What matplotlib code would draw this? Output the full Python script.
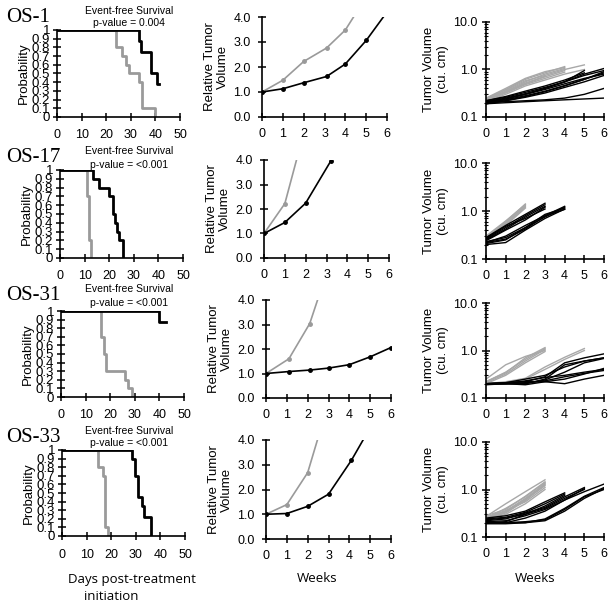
import matplotlib
matplotlib.use("Agg")
import matplotlib.pyplot as plt
import numpy as np
from matplotlib.ticker import FixedLocator, LogLocator, NullFormatter

# figure is laid out in pixel coords (615 x 606 @ 100 dpi)
W, H = 615, 606
GRAY = "#9a9a9a"
LGRAY = "#a8a8a8"

models = ["OS-1", "OS-17", "OS-31", "OS-33"]
p_values = ["p-value = 0.004", "p-value = <0.001", "p-value = <0.001", "p-value = <0.001"]

# Kaplan-Meier curves: event times (days) and survival probability
km_ctrl_t = [
    [0, 24, 26.3, 27.9, 29.2, 33.5, 34.5, 39.9],
    [0, 10.8, 11.6, 12.8],
    [0, 16.4, 17.5, 18.2, 26.2, 27.3, 28.8],
    [0, 14.8, 16.8, 17.6, 18.8],
]
km_ctrl_s = [
    [1, 0.8, 0.7, 0.6, 0.5, 0.4, 0.1, 0],
    [1, 0.7, 0.2, 0],
    [1, 0.7, 0.5, 0.3, 0.2, 0.1, 0],
    [1, 0.8, 0.7, 0.1, 0],
]
km_trt_t = [
    [0, 33.2, 34.3, 38.3, 40.5, 41.5],
    [0, 13.6, 15.9, 19.9, 21.6, 22.5, 23.2, 24.0, 25.8],
    [0, 39.8, 42.8],
    [0, 28.3, 29.5, 30.8, 32.5, 33.5, 36.0],
]
km_trt_s = [
    [1, 0.875, 0.75, 0.5, 0.375, 0.375],
    [1, 0.9, 0.8, 0.7, 0.5, 0.4, 0.3, 0.2, 0],
    [1, 0.875, 0.875],
    [1, 0.9, 0.7, 0.45, 0.35, 0.22, 0],
]

# median relative tumor volume (weeks, RTV)
rtv_ctrl_wk = [[0, 1, 2, 3.1, 4, 5], [0, 1, 2], [0, 1.1, 2.1, 3.1], [0, 1, 2, 3]]
rtv_ctrl = [[1.0, 1.47, 2.22, 2.76, 3.48, 4.8], [1.0, 2.22, 5.4],
            [1.0, 1.6, 3.04, 5.6], [1.0, 1.39, 2.68, 5.5]]
rtv_trt_wk = [[0, 1, 2, 3.1, 4, 5, 6], [0, 1, 2, 3.2], [0, 1.1, 2.1, 3, 4, 5, 6],
              [0, 1, 2, 3, 4.1, 5]]
rtv_trt = [[1.0, 1.13, 1.37, 1.62, 2.12, 3.06, 4.2], [1.0, 1.45, 2.24, 3.95],
           [1.0, 1.08, 1.14, 1.22, 1.36, 1.68, 2.06], [1.0, 1.03, 1.32, 1.81, 3.18, 4.5]]

# individual tumor volumes (cu. cm), one list per mouse, weekly from week 0
vol_ctrl = [
    [[0.24, 0.38, 0.62, 0.85, 1.15], [0.25, 0.40, 0.65, 0.90, 1.10],
     [0.23, 0.35, 0.55, 0.80, 1.05], [0.22, 0.33, 0.50, 0.70, 0.95],
     [0.24, 0.37, 0.58, 0.75, 1.00, 1.25], [0.21, 0.30, 0.45, 0.60, 0.80, 1.00],
     [0.23, 0.34, 0.52, 0.72], [0.22, 0.32, 0.48, 0.65, 0.88]],
    [[0.28, 0.60, 1.40], [0.27, 0.55, 1.30], [0.26, 0.52, 1.20],
     [0.30, 0.62, 1.35], [0.25, 0.50, 1.15], [0.29, 0.58, 1.25]],
    [[0.25, 0.50, 0.75, 1.00], [0.22, 0.35, 0.65, 1.10], [0.21, 0.32, 0.60, 1.05],
     [0.22, 0.34, 0.70, 1.15], [0.20, 0.30, 0.55, 0.95],
     [0.20, 0.22, 0.26, 0.45, 0.72, 1.10], [0.20, 0.21, 0.25, 0.40, 0.65, 1.00]],
    [[0.27, 0.50, 0.90, 1.60], [0.25, 0.40, 0.70, 1.40], [0.26, 0.35, 0.65, 1.30],
     [0.24, 0.33, 0.60, 1.20], [0.28, 0.38, 0.72, 1.45], [0.25, 0.36, 0.55, 1.10],
     [0.23, 0.30, 0.50, 1.00], [0.26, 0.34, 0.62, 1.25], [0.24, 0.32, 0.58, 1.35]],
]
vol_trt = [
    [[0.19, 0.20, 0.21, 0.22, 0.23, 0.24, 0.25], [0.20, 0.21, 0.22, 0.23, 0.25, 0.30, 0.40],
     [0.19, 0.22, 0.26, 0.32, 0.42, 0.55, 0.75], [0.21, 0.24, 0.30, 0.38, 0.50, 0.65, 0.80],
     [0.20, 0.23, 0.28, 0.35, 0.46, 0.62, 0.85], [0.22, 0.26, 0.33, 0.42, 0.55, 0.75, 0.95],
     [0.21, 0.25, 0.31, 0.40, 0.55, 0.80, 1.05], [0.20, 0.24, 0.30, 0.40, 0.55, 0.95],
     [0.22, 0.27, 0.35, 0.45, 0.60, 0.85], [0.19, 0.22, 0.27, 0.34, 0.45, 0.62, 0.90]],
    [[0.28, 0.50, 0.85, 1.45], [0.26, 0.45, 0.80, 1.35], [0.25, 0.42, 0.75, 1.25],
     [0.27, 0.48, 0.70, 1.10], [0.24, 0.40, 0.65, 1.20],
     [0.22, 0.30, 0.50, 0.80, 1.25], [0.21, 0.25, 0.45, 0.75, 1.20],
     [0.20, 0.22, 0.40, 0.70, 1.10], [0.23, 0.28, 0.45, 0.85, 1.15],
     [0.22, 0.26, 0.42, 0.78, 1.08]],
    [[0.20, 0.20, 0.20, 0.25, 0.50, 0.60, 0.70], [0.20, 0.21, 0.22, 0.28, 0.55, 0.70, 0.85],
     [0.20, 0.21, 0.25, 0.30, 0.45, 0.60, 0.70], [0.20, 0.20, 0.19, 0.22, 0.25, 0.32, 0.42],
     [0.20, 0.20, 0.21, 0.23, 0.28, 0.33, 0.38], [0.20, 0.21, 0.22, 0.22, 0.20, 0.25, 0.30],
     [0.19, 0.20, 0.20, 0.24, 0.35, 0.55, 0.68], [0.20, 0.20, 0.23, 0.27, 0.30, 0.35, 0.40]],
    [[0.25, 0.28, 0.35, 0.55, 0.85], [0.24, 0.26, 0.33, 0.50, 0.80],
     [0.23, 0.25, 0.30, 0.45, 0.75], [0.22, 0.24, 0.32, 0.42, 0.70, 1.10],
     [0.20, 0.21, 0.30, 0.40, 0.65, 1.00], [0.21, 0.22, 0.28, 0.38, 0.60, 1.05],
     [0.20, 0.20, 0.25, 0.35, 0.60, 0.90, 1.30], [0.19, 0.19, 0.20, 0.22, 0.35, 0.65, 1.05],
     [0.20, 0.20, 0.21, 0.23, 0.38, 0.70, 1.00], [0.20, 0.20, 0.20, 0.24, 0.40, 0.72, 1.10]],
]

# panel placement in pixels: (top, bottom) for each column, per row
km_rows = [(30, 117), (170, 258), (311, 397), (450, 536)]
km_left = [57, 60, 61, 62]
rtv_rows = [(17, 117), (160, 258), (300, 398), (440, 539)]
rtv_left = [262, 264, 266, 266]
vol_rows = [(22, 117), (163, 259), (303, 398), (442, 537)]
title_y = [17, 158, 296, 437]

plt.rcParams["font.family"] = ["Liberation Sans", "DejaVu Sans"]


def box(left, top, right, bottom):
    return [left / W, 1 - bottom / H, (right - left) / W, (bottom - top) / H]


def style(ax, pad_x, pad_y):
    for s in ("top", "right"):
        ax.spines[s].set_visible(False)
    for s in ("left", "bottom"):
        ax.spines[s].set_linewidth(1.2)
    ax.tick_params(direction="inout", length=6, width=1.1, labelsize=9)
    ax.tick_params(axis="x", pad=pad_x)
    ax.tick_params(axis="y", pad=pad_y)


fig = plt.figure(figsize=(W / 100, H / 100), dpi=100)

for i in range(4):
    # Kaplan-Meier panel
    top, bot = km_rows[i]
    ax = fig.add_axes(box(km_left[i], top, km_left[i] + 123, bot))
    ax.step(km_ctrl_t[i], km_ctrl_s[i], where="post", color=GRAY, lw=2)
    ax.step(km_trt_t[i], km_trt_s[i], where="post", color="black", lw=2)
    ax.set_xlim(0, 50)
    ax.set_ylim(0, 1)
    ax.set_xticks(range(0, 51, 10))
    yt = np.round(np.arange(0, 1.01, 0.1), 1)
    ax.set_yticks(yt)
    ax.set_yticklabels(["0"] + [f"{v:.1f}" for v in yt[1:-1]] + ["1"])
    style(ax, 6, 2)
    ax.tick_params(axis="y", labelsize=9.5)
    ax.set_ylabel("Probability", fontsize=9.5, labelpad=1)
    for sp in ax.spines.values():
        sp.set_clip_on(False)

    fig.text(6 / W, 1 - title_y[i] / H, models[i], family="Liberation Serif",
             fontsize=15, va="center", ha="left")
    fig.text(129 / W, 1 - (title_y[i] - 6.5) / H, "Event-free Survival",
             fontsize=7.5, ha="center", va="center")
    fig.text(129 / W, 1 - (title_y[i] + 6.5) / H, p_values[i],
             fontsize=7.5, ha="center", va="center")

    # relative tumor volume panel
    top, bot = rtv_rows[i]
    ax = fig.add_axes(box(rtv_left[i], top, rtv_left[i] + 125, bot))
    ax.plot(rtv_ctrl_wk[i], rtv_ctrl[i], color=GRAY, lw=1.2, marker="o", ms=2.5)
    ax.plot(rtv_trt_wk[i], rtv_trt[i], color="black", lw=1.2, marker="o", ms=2.5)
    ax.set_xlim(0, 6)
    ax.set_ylim(0, 4)
    ax.set_xticks(range(7))
    ax.set_yticks(range(5))
    ax.set_yticklabels([f"{v:.1f}" for v in range(5)])
    style(ax, 5, 5)
    ax.set_ylabel("Relative Tumor\nVolume", fontsize=9.5, labelpad=3)

    # individual tumor volume panel
    top, bot = vol_rows[i]
    ax = fig.add_axes(box(486, top, 604, bot))
    for v in vol_ctrl[i]:
        ax.plot(range(len(v)), v, color=LGRAY, lw=1)
    for v in vol_trt[i]:
        ax.plot(range(len(v)), v, color="black", lw=1)
    ax.set_yscale("log")
    ax.set_xlim(0, 6)
    ax.set_ylim(0.1, 10)
    ax.set_xticks(range(7))
    ax.yaxis.set_major_locator(FixedLocator([0.1, 1, 10]))
    ax.set_yticklabels(["0.1", "1.0", "10.0"])
    ax.yaxis.set_minor_locator(LogLocator(subs=np.arange(2, 10)))
    ax.yaxis.set_minor_formatter(NullFormatter())
    style(ax, 5, 3)
    ax.tick_params(axis="y", which="minor", direction="inout", length=3, width=0.8)
    ax.set_ylabel("Tumor Volume\n(cu. cm)", fontsize=9.5, labelpad=3)

fig.text(132 / W, 1 - 580 / H, "Days post-treatment", family="Open Sans",
         fontsize=9.5, ha="center", va="center")
fig.text(111 / W, 1 - 597 / H, "initiation", family="Open Sans",
         fontsize=9.5, ha="center", va="center")
fig.text(317 / W, 1 - 578 / H, "Weeks", family="Open Sans",
         fontsize=9.5, ha="center", va="center")
fig.text(535 / W, 1 - 578 / H, "Weeks", family="Open Sans",
         fontsize=9.5, ha="center", va="center")

fig.savefig("out.png", dpi=100)
